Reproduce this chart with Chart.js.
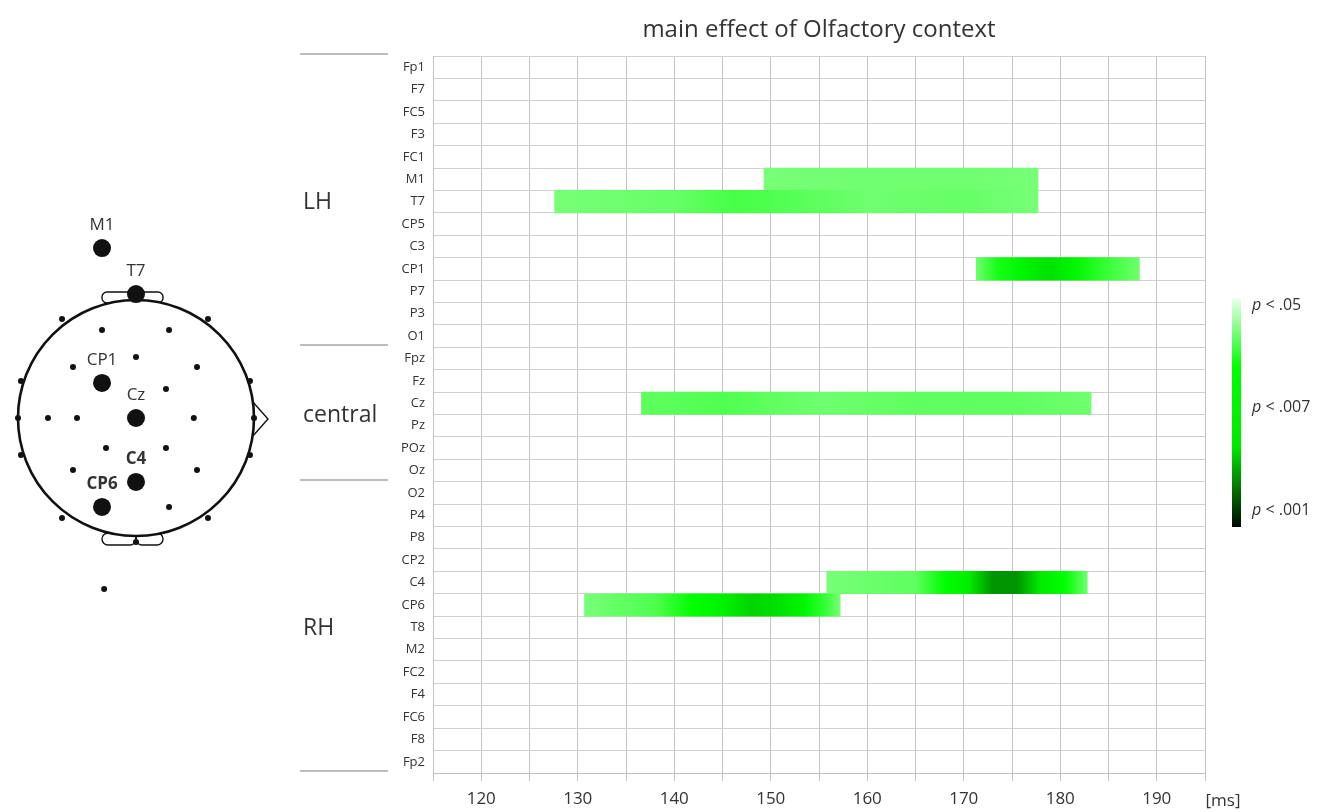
<!DOCTYPE html>
<html>
<head>
<meta charset="utf-8">
<script src="https://cdn.jsdelivr.net/npm/chart.js@4.4.1/dist/chart.umd.min.js"></script>
<style>
html,body{margin:0;padding:0;background:#fff}
#wrap{width:1325px;height:812px;position:relative}
</style>
</head>
<body>
<div id="wrap"><canvas id="c"></canvas></div>
<script>
// ---------- data ----------
const channels = ['Fp1','F7','FC5','F3','FC1','M1','T7','CP5','C3','CP1','P7','P3','O1',
                  'Fpz','Fz','Cz','Pz','POz','Oz',
                  'O2','P4','P8','CP2','C4','CP6','T8','M2','FC2','F4','FC6','F8','Fp2'];
const groupNames = ['LH','central','RH'];
const groupFirst = ['Fp1','Fpz','O2'];
const groupLast  = ['O1','Oz','Fp2'];

// significant intervals (ms)
const sigChannels = ['M1','T7','CP1','Cz','C4','CP6'];
const sigStart    = [149.3, 127.6, 171.3, 136.6, 155.8, 130.7];
const sigEnd      = [177.7, 177.7, 188.2, 183.2, 182.8, 157.2];
// significance profile along each interval: level 0 = p<.05, 0.5 = p<.007, 1 = p<.001
const sigProfileTimes = [
  [149.3, 160, 170, 177.7],
  [127.6, 140, 146, 150, 160, 170, 177.7],
  [171.3, 173.5, 176, 179, 181.5, 184.5, 188.2],
  [136.6, 145, 155, 165, 175, 183.2],
  [155.8, 165, 168, 170.5, 173, 175.5, 178, 180.5, 182.8],
  [130.7, 138, 142, 145, 148, 151, 153.5, 155.5, 157.2]
];
const sigProfileLevels = [
  [0.15, 0.16, 0.16, 0.15],
  [0.15, 0.17, 0.21, 0.20, 0.16, 0.17, 0.15],
  [0.16, 0.27, 0.45, 0.66, 0.42, 0.24, 0.16],
  [0.18, 0.20, 0.16, 0.18, 0.18, 0.16],
  [0.15, 0.18, 0.30, 0.55, 0.78, 0.78, 0.58, 0.30, 0.16],
  [0.15, 0.20, 0.30, 0.50, 0.68, 0.66, 0.42, 0.24, 0.15]
];

const xMin = 115, xMax = 195, xStep = 5;
const xLabelValues = [120,130,140,150,160,170,180,190];
const xUnit = '[ms]';
const chartTitle = 'main effect of Olfactory context';
const colorbarLabels = ['.05', '.007', '.001'];
const colorbarLevels = [0, 0.5, 1];

// head diagram (illustration): normalised positions in head radii
const headSmall = [[-0.627,-0.839],[0.61,-0.839],[-0.975,-0.314],[0.966,-0.314],[-1.0,0],[1.0,0],
  [-0.975,0.314],[0.966,0.314],[-0.627,0.847],[0.61,0.847],[0,1.05],[-0.288,-0.746],[0.28,-0.746],
  [0,-0.517],[-0.534,-0.432],[0.517,-0.432],[0.254,-0.246],[-0.746,0],[-0.5,0],[0.49,0],
  [-0.254,0.254],[0.254,0.254],[-0.534,0.44],[0.517,0.44],[0.28,0.754],[-0.27,1.45]];
const headNamedPos = [[-0.288,-1.44],[0,-1.05],[-0.288,-0.297],[0,0],[0,0.542],[-0.288,0.754]];
const headNamedBold = [false,false,false,false,true,true];

// ---------- helpers ----------
const FONT = "'Open Sans', 'DejaVu Sans', sans-serif";
const TXT = '#333333';
const cmapStops = [[0,[238,255,238]],[0.3,[0,255,0]],[0.65,[0,232,0]],[1,[0,8,0]]];
function cmap(l){
  l = Math.max(0, Math.min(1, l));
  for (let k = 1; k < cmapStops.length; k++){
    const [l1,c1] = cmapStops[k-1], [l2,c2] = cmapStops[k];
    if (l <= l2){
      const f = (l - l1) / (l2 - l1);
      const c = c1.map((v,j)=>Math.round(v + (c2[j]-v)*f));
      return `rgb(${c[0]},${c[1]},${c[2]})`;
    }
  }
  const c = cmapStops[cmapStops.length-1][1];
  return `rgb(${c[0]},${c[1]},${c[2]})`;
}

const barData = channels.map(ch => {
  const i = sigChannels.indexOf(ch);
  return i < 0 ? null : [sigStart[i], sigEnd[i]];
});

// ---------- decorations plugin ----------
const decorations = {
  id: 'decorations',
  afterDraw(chart){
    const ctx = chart.ctx, ys = chart.scales.y, ca = chart.chartArea;
    const pitch = (ca.bottom - ca.top) / channels.length;
    ctx.save();
    // group lines & labels
    ctx.strokeStyle = '#bdbdbd'; ctx.lineWidth = 2;
    const bounds = [];
    groupFirst.forEach((f,g) => {
      const yTop = ys.getPixelForValue(channels.indexOf(f)) - pitch/2;
      const yBot = ys.getPixelForValue(channels.indexOf(groupLast[g])) + pitch/2;
      bounds.push(yTop, yBot);
      ctx.fillStyle = TXT;
      ctx.font = `23px ${FONT}`;
      ctx.textBaseline = 'middle'; ctx.textAlign = 'left';
      ctx.fillText(groupNames[g], 303, (yTop + yBot)/2 + 1);
    });
    [...new Set(bounds.map(b=>Math.round(b)))].forEach(b => {
      ctx.beginPath(); ctx.moveTo(300, b - 2); ctx.lineTo(388, b - 2); ctx.stroke();
    });
    // unit label
    ctx.fillStyle = TXT; ctx.font = `17px ${FONT}`;
    ctx.textAlign = 'center'; ctx.textBaseline = 'middle';
    ctx.fillText(xUnit, ca.right + 18, ca.bottom + 28);

    // colorbar
    const cbX = ca.right + 27, cbW = 9, cbTop = 298, cbBot = 527;
    const grad = ctx.createLinearGradient(0, cbTop, 0, cbBot);
    for (let k = 0; k <= 40; k++) grad.addColorStop(k/40, cmap(k/40));
    ctx.fillStyle = grad; ctx.fillRect(cbX, cbTop, cbW, cbBot - cbTop);
    colorbarLabels.forEach((lab, k) => {
      const y = cbTop + 7 + colorbarLevels[k] * (cbBot - cbTop - 24);
      ctx.textAlign = 'left'; ctx.textBaseline = 'middle'; ctx.fillStyle = TXT;
      ctx.font = `italic 16px ${FONT}`;
      const px = cbX + 20;
      ctx.fillText('p', px, y);
      const w = ctx.measureText('p ').width;
      ctx.font = `16px ${FONT}`;
      ctx.fillText('< ' + lab, px + w, y);
    });

    // head diagram
    const cx = 136, cy = 418, R = 118;
    ctx.strokeStyle = '#111'; ctx.fillStyle = '#111';
    ctx.lineWidth = 1.4;
    ctx.beginPath(); ctx.roundRect(cx - 34, cy - R - 8, 61, 11, 5); ctx.stroke();
    ctx.beginPath(); ctx.roundRect(cx - 34, cy + R - 3, 34, 12, 6); ctx.stroke();
    ctx.beginPath(); ctx.roundRect(cx, cy + R - 3, 27, 12, 6); ctx.stroke();
    ctx.beginPath(); ctx.moveTo(cx + R - 2, cy - 17); ctx.lineTo(cx + R + 14, cy + 1); ctx.lineTo(cx + R - 2, cy + 19); ctx.stroke();
    ctx.lineWidth = 2.6;
    ctx.beginPath(); ctx.arc(cx, cy, R, 0, Math.PI*2);
    ctx.fillStyle = '#fff'; ctx.fill(); ctx.stroke();
    ctx.fillStyle = '#111';
    headSmall.forEach(([u,v]) => {
      ctx.beginPath(); ctx.arc(cx + u*R, cy + v*R, 3, 0, Math.PI*2); ctx.fill();
    });
    sigChannels.forEach((name, k) => {
      const [u,v] = headNamedPos[k];
      const ex = cx + u*R, ey = cy + v*R;
      ctx.beginPath(); ctx.arc(ex, ey, 9, 0, Math.PI*2); ctx.fill();
      ctx.font = `${headNamedBold[k] ? 'bold ' : ''}17px ${FONT}`;
      ctx.textAlign = 'center'; ctx.textBaseline = 'middle';
      ctx.fillStyle = TXT;
      ctx.fillText(name, ex, ey - 23);
      ctx.fillStyle = '#111';
    });
    ctx.restore();
  }
};

// ---------- chart ----------
new Chart(document.getElementById('c'), {
  type: 'bar',
  data: {
    labels: channels,
    datasets: [{
      data: barData,
      barPercentage: 1,
      categoryPercentage: 1,
      borderWidth: 0,
      backgroundColor(ctx){
        const chart = ctx.chart, xs = chart.scales.x;
        if (!xs || !chart.chartArea || ctx.type !== 'data') return 'rgba(0,0,0,0)';
        const i = sigChannels.indexOf(channels[ctx.dataIndex]);
        if (i < 0) return 'rgba(0,0,0,0)';
        const x0 = xs.getPixelForValue(sigStart[i]), x1 = xs.getPixelForValue(sigEnd[i]);
        const g = chart.ctx.createLinearGradient(x0, 0, x1, 0);
        sigProfileTimes[i].forEach((t,k) => {
          const f = Math.max(0, Math.min(1, (xs.getPixelForValue(t) - x0) / (x1 - x0)));
          g.addColorStop(f, cmap(sigProfileLevels[i][k]));
        });
        return g;
      }
    }]
  },
  options: {
    indexAxis: 'y',
    responsive: true,
    maintainAspectRatio: false,
    animation: false,
    layout: { padding: { left: 0, right: 120, top: 0, bottom: 0 } },
    plugins: {
      legend: { display: false },
      tooltip: { enabled: false },
      title: {
        display: true, text: chartTitle, fullSize: false, color: TXT,
        font: { family: FONT, size: 24, weight: 'normal' },
        padding: { top: 16, bottom: 11.2 }
      }
    },
    scales: {
      x: {
        type: 'linear', position: 'bottom', min: xMin, max: xMax,
        ticks: {
          stepSize: xStep, autoSkip: false, maxRotation: 0, color: TXT, padding: 8,
          font: { family: FONT, size: 17 },
          callback: v => xLabelValues.includes(v) ? String(v) : ''
        },
        grid: { color: '#c2c2c2', lineWidth: 1, drawTicks: true, tickLength: 8, tickColor: '#c2c2c2' },
        border: { color: '#c2c2c2' },
        afterFit(s){ s.height = 39; }
      },
      y: {
        type: 'category', offset: true,
        ticks: { color: TXT, padding: 8, autoSkip: false, font: { family: FONT, size: 13 } },
        grid: { color: '#d0d0d0', offset: true, drawTicks: false },
        border: { color: '#c2c2c2' },
        afterFit(s){ s.width = 433; }
      }
    }
  },
  plugins: [decorations]
});
</script>
</body>
</html>
